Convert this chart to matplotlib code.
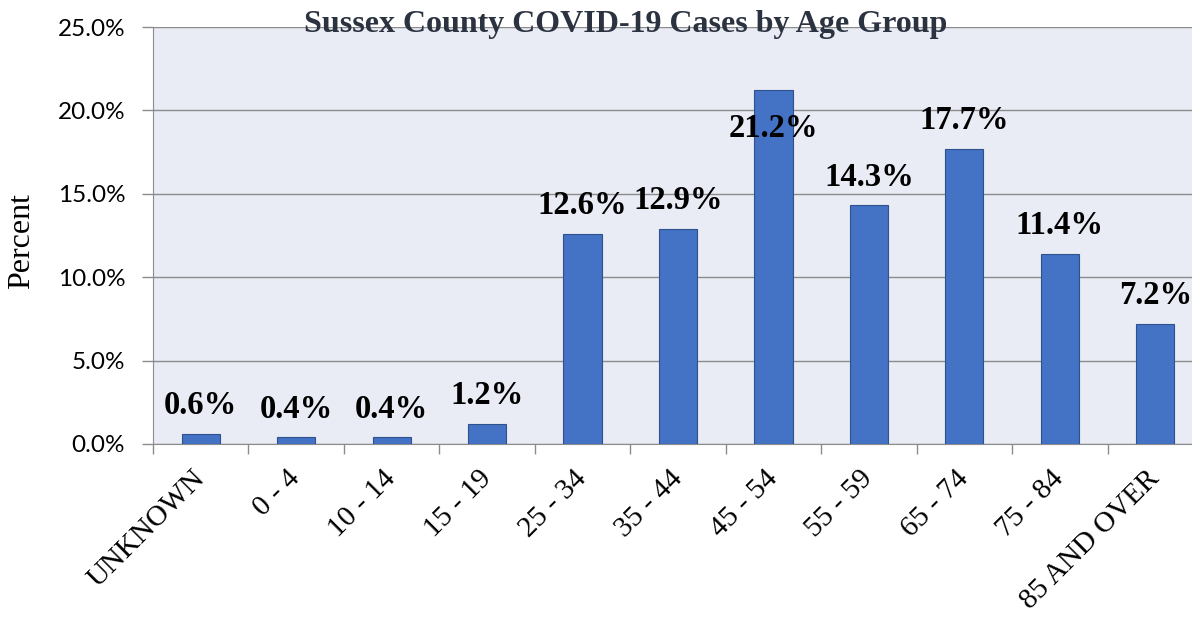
import numpy as np
import matplotlib.pyplot as plt
from matplotlib.ticker import FixedLocator, PercentFormatter

groups = ["UNKNOWN", "0 - 4", "10 - 14", "15 - 19", "25 - 34", "35 - 44",
          "45 - 54", "55 - 59", "65 - 74", "75 - 84", "85 AND OVER"]
pct = [0.6, 0.4, 0.4, 1.2, 12.6, 12.9, 21.2, 14.3, 17.7, 11.4, 7.2]
yticks = [0, 5, 10, 15, 20, 25]

serif = ["Liberation Serif", "DejaVu Serif"]
grey = "#8c8c8c"

fig = plt.figure(figsize=(11.92, 6.19), dpi=100)
# plot area runs a bit past the right edge of the image, as in the original
ax = fig.add_axes([153 / 1192, 175 / 619, 1050 / 1192, 417 / 619])
ax.set_facecolor("#e9ebf5")

x = np.arange(len(groups))
bars = ax.bar(x, pct, width=0.4, color="#4472c4", edgecolor="#2f528f",
              linewidth=0.8, zorder=3)

ax.set_xlim(-0.5, len(groups) - 0.5)
ax.set_ylim(0, 25)
ax.set_yticks(yticks)
ax.yaxis.set_major_formatter(PercentFormatter(decimals=1))
ax.grid(axis="y", color=grey, linewidth=1, zorder=0)

for lab in ax.get_yticklabels():
    lab.set_fontfamily("Lato")
    lab.set_fontsize(17.5)
ax.tick_params(axis="y", length=8, color=grey, width=1, pad=12)

ax.set_xticks(x)
ax.set_xticklabels(groups, rotation=45, ha="right", va="center",
                   rotation_mode="anchor", family=serif, fontsize=21)
ax.tick_params(axis="x", which="major", length=0, pad=22)
ax.xaxis.set_minor_locator(FixedLocator(np.arange(-0.5, len(groups), 1)))
ax.tick_params(axis="x", which="minor", length=7, color=grey, width=1)

for side in ["top", "right"]:
    ax.spines[side].set_visible(False)
for side in ["left", "bottom"]:
    ax.spines[side].set_color(grey)

for i, v in enumerate(pct):
    y = v + 0.75
    if v > 20:
        y = v - 3.2
    ax.text(i, y, f"{v:.1f}%", ha="center", va="bottom", family=serif,
            fontsize=23.5, fontweight="bold", zorder=4)

fig.text(0.018, 0.61, "Percent", rotation=90, ha="center", va="center",
         family=serif, fontsize=23)
fig.text(0.525, 0.961, "Sussex County COVID-19 Cases by Age Group",
         ha="center", va="center", family=serif, fontsize=23,
         fontweight="bold", color="#2b3340")

fig.savefig("out.png", dpi=100)
